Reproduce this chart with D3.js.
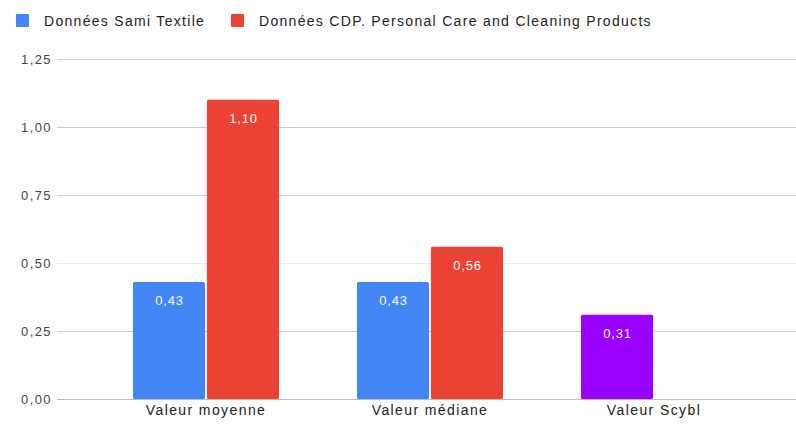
<!DOCTYPE html>
<html>
<head>
<meta charset="utf-8">
<script src="https://cdn.jsdelivr.net/npm/d3@7"></script>
<style>
html,body{margin:0;padding:0;background:#fff;}
svg{display:block;font-family:"Liberation Sans",Arial,sans-serif;}
</style>
</head>
<body>
<svg id="chart" width="796" height="426"></svg>
<script>
const categories = ["Valeur moyenne", "Valeur médiane", "Valeur Scybl"];
const seriesNames = ["Données Sami Textile", "Données CDP. Personal Care and Cleaning Products"];
const seriesSami = [0.43, 0.43, 0.31];
const seriesCDP = [1.10, 0.56, null];
const yTicks = [0, 0.25, 0.5, 0.75, 1.0, 1.25];
const seriesColors = ["#4285f4", "#ea4335"];
const pointColorOverride = [null, null, "#9900ff"];

const svg = d3.select("#chart");
const W = 796, H = 426;
const plotLeft = 94, plotRight = 766, plotTop = 59, plotBottom = 399;

const y = d3.scaleLinear().domain([0, 1.25]).range([plotBottom, plotTop]);
const x0 = d3.scaleBand().domain(categories).range([plotLeft, plotRight]).padding(0);
const x1 = d3.scaleBand().domain([0, 1]).range([39, 185]).paddingInner(0.025);

const fmt = v => d3.format(".2f")(v).replace(".", ",");

// gridlines
const grid = svg.append("g");
yTicks.forEach(t => {
  grid.append("line")
    .attr("x1", 57).attr("x2", W)
    .attr("y1", Math.round(y(t)) + 0.5).attr("y2", Math.round(y(t)) + 0.5)
    .attr("stroke", t === 0 ? "#bdbdbd" : (t === 0.5 ? "#ebebeb" : "#cccccc"))
    .attr("stroke-width", 1);
});

// y axis labels
const yAxis = d3.axisLeft(y).tickValues(yTicks).tickFormat(fmt).tickSize(0).tickPadding(0);
const ga = svg.append("g").attr("transform", "translate(52,0)").call(yAxis);
ga.select(".domain").remove();
ga.selectAll("text").attr("fill", "#444").attr("font-size", 13)
  .attr("letter-spacing", 1.4)
  .attr("font-family", "Liberation Sans, Arial, sans-serif");

// bars
const data = [];
categories.forEach((c, i) => {
  [seriesSami, seriesCDP].forEach((s, j) => {
    if (s[i] != null) {
      data.push({cat: c, idx: i, s: j, v: s[i],
        color: (j === 0 && pointColorOverride[i]) ? pointColorOverride[i] : seriesColors[j]});
    }
  });
});

const bars = svg.append("g");
bars.selectAll("rect").data(data).enter().append("rect")
  .attr("x", d => x0(d.cat) + x1(d.s))
  .attr("y", d => y(d.v))
  .attr("width", x1.bandwidth())
  .attr("height", d => y(0) - y(d.v))
  .attr("rx", 1.5)
  .attr("fill", d => d.color);

bars.selectAll("text").data(data).enter().append("text")
  .attr("x", d => x0(d.cat) + x1(d.s) + x1.bandwidth() / 2 + 0.5)
  .attr("y", d => y(d.v) + 23)
  .attr("text-anchor", "middle")
  .attr("fill", "#fff")
  .attr("font-size", 13)
  .attr("letter-spacing", 0.8)
  .text(d => fmt(d.v));

// category labels
const xAxis = d3.axisBottom(x0).tickSize(0).tickPadding(0);
const gx = svg.append("g").attr("transform", `translate(0,${plotBottom + 4})`).call(xAxis);
gx.select(".domain").remove();
gx.selectAll("text").attr("fill", "#222").attr("font-size", 14).attr("dy", "0.85em")
  .attr("letter-spacing", 1.4)
  .attr("font-family", "Liberation Sans, Arial, sans-serif");

// legend
const legend = svg.append("g");
const legendX = [16, 231];
seriesNames.forEach((n, i) => {
  legend.append("rect").attr("x", legendX[i]).attr("y", 14).attr("width", 13).attr("height", 13)
    .attr("rx", 1).attr("fill", seriesColors[i]);
  legend.append("text").attr("x", legendX[i] + 28).attr("y", 26)
    .attr("font-size", 14).attr("letter-spacing", 1.3).attr("fill", "#222").text(n);
});
</script>
</body>
</html>
